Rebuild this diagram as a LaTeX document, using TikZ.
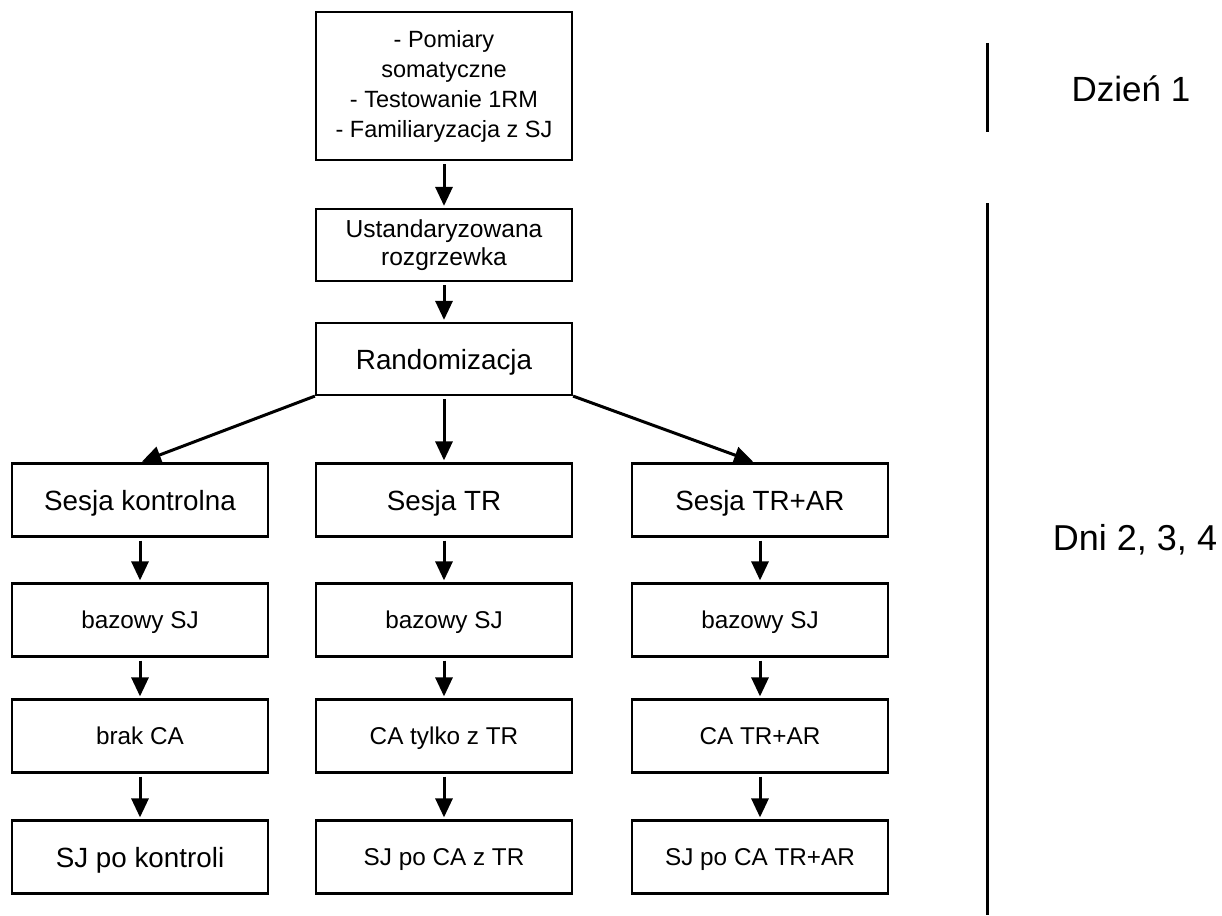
\documentclass[tikz,border=0pt]{standalone}
\usepackage{fontspec}
\setmainfont{Liberation Sans}
\newfontfamily\labelfont{Liberation Sans}
\usetikzlibrary{arrows.meta}
\begin{document}
\begin{tikzpicture}[x=1pt,y=-1pt,
  box/.style={draw, line width=2.2pt, minimum width=256pt, inner sep=0pt, align=center},
  rowbox/.style={box, minimum height=73pt},
  big/.style={font=\labelfont\fontsize{27.8}{32}\selectfont, text height=20pt, text depth=0pt},
  small/.style={font=\labelfont\fontsize{24.3}{28}\selectfont, text height=17.4pt, text depth=0pt},
  flow/.style={line width=3pt, -{Triangle[length=19pt,width=17pt]}, shorten <=3pt, shorten >=2pt},
  bar/.style={line width=3pt},
  daylabel/.style={anchor=base, font=\labelfont\fontsize{35}{40}\selectfont}]
\useasboundingbox (0,0) rectangle (1222,915);

% preparation steps
\node[box, minimum height=148pt, font=\labelfont\fontsize{23.5}{30}\selectfont] (prep) at (444,86)
  {- Pomiary\\somatyczne\\- Testowanie 1RM\\- Familiaryzacja z SJ};
\node[box, minimum height=72pt, font=\labelfont\fontsize{24.6}{28}\selectfont] (warm) at (444,245)
  {Ustandaryzowana\\rozgrzewka};
\node[box, minimum height=72pt, big] (rand) at (444,359) {Randomizacja};

% three session columns
\node[rowbox, big]   (c1) at (140,500) {Sesja kontrolna};
\node[rowbox, small] (c2) at (140,620) {bazowy SJ};
\node[rowbox, small] (c3) at (140,736) {brak CA};
\node[rowbox, big]   (c4) at (140,857) {SJ po kontroli};

\node[rowbox, big]   (t1) at (444,500) {Sesja TR};
\node[rowbox, small] (t2) at (444,620) {bazowy SJ};
\node[rowbox, small] (t3) at (444,736) {CA tylko z TR};
\node[rowbox, small] (t4) at (444,857) {SJ po CA z TR};

\node[rowbox, big]   (a1) at (760,500) {Sesja TR+AR};
\node[rowbox, small] (a2) at (760,620) {bazowy SJ};
\node[rowbox, small] (a3) at (760,736) {CA TR+AR};
\node[rowbox, small] (a4) at (760,857) {SJ po CA TR+AR};

% connectors
\draw[flow] (prep) -- (warm);
\draw[flow] (warm) -- (rand);
\draw[flow, shorten <=0pt] (rand.south west) -- (c1.north);
\draw[flow] (rand) -- (t1);
\draw[flow, shorten <=0pt] (rand.south east) -- ([xshift=-5pt]a1.north);
\foreach \col in {c,t,a}{
  \draw[flow] (\col1) -- (\col2);
  \draw[flow] (\col2) -- (\col3);
  \draw[flow] (\col3) -- (\col4);
}

% day markers
\coordinate (d1top) at (987,43);
\coordinate (d1bot) at (987,132);
\coordinate (d2top) at (987,203);
\coordinate (d2bot) at (987,915);
\draw[bar] (d1top) -- (d1bot);
\draw[bar] (d2top) -- (d2bot);
\node[daylabel] (day1) at (1131,102) {Dzień 1};
\node[daylabel, font=\labelfont\fontsize{36}{40}\selectfont] (days) at (1135,550) {Dni 2, 3, 4};
\end{tikzpicture}
\end{document}
